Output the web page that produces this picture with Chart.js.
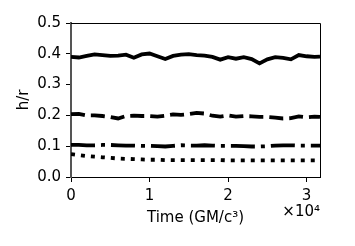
<!DOCTYPE html>
<html>
<head>
<meta charset="utf-8">
<script src="https://cdn.jsdelivr.net/npm/chart.js@4/dist/chart.umd.min.js"></script>
<style>
	html, body { margin: 0; padding: 0; background: #fff; }
	canvas { display: block; }
</style>
</head>
<body>
<canvas id="hr-chart" width="355" height="246"></canvas>
<script>
// h/r vs time for four discs
const times = [0, 1000, 2000, 3000, 4000, 5000, 6000, 7000, 8000, 9000, 10000, 11000, 12000, 13000, 14000, 15000, 16000, 17000, 18000, 19000, 20000, 21000, 22000, 23000, 24000, 25000, 26000, 27000, 28000, 29000, 30000, 31000, 31700];

const hrThick = [0.390, 0.388, 0.393, 0.398, 0.396, 0.393, 0.394, 0.397, 0.387, 0.398, 0.401, 0.392, 0.383, 0.393, 0.397, 0.399, 0.396, 0.394, 0.390, 0.381, 0.389, 0.384, 0.389, 0.383, 0.369, 0.382, 0.389, 0.387, 0.382, 0.396, 0.392, 0.390, 0.391];
const hrMedium = [0.204, 0.205, 0.200, 0.200, 0.198, 0.195, 0.190, 0.198, 0.199, 0.198, 0.198, 0.196, 0.199, 0.203, 0.202, 0.204, 0.208, 0.206, 0.199, 0.196, 0.200, 0.196, 0.198, 0.197, 0.195, 0.195, 0.193, 0.190, 0.191, 0.197, 0.194, 0.196, 0.195];
const hrThin = [0.104, 0.104, 0.103, 0.103, 0.104, 0.104, 0.103, 0.102, 0.102, 0.101, 0.101, 0.100, 0.099, 0.101, 0.103, 0.102, 0.102, 0.103, 0.102, 0.101, 0.101, 0.101, 0.100, 0.099, 0.099, 0.100, 0.102, 0.103, 0.103, 0.102, 0.102, 0.102, 0.102];
const hrThinnest = [0.074, 0.071, 0.068, 0.066, 0.064, 0.062, 0.060, 0.059, 0.058, 0.057, 0.056, 0.056, 0.055, 0.055, 0.055, 0.055, 0.055, 0.055, 0.055, 0.055, 0.054, 0.054, 0.054, 0.054, 0.054, 0.054, 0.054, 0.054, 0.054, 0.054, 0.054, 0.054, 0.054];

const yTicks = [0, 0.1, 0.2, 0.3, 0.4, 0.5];
const xTicks = [0, 10000, 20000, 30000];

const FONT = "'DejaVu Sans', sans-serif";
const FS = 15;

const pts = (ys) => times.map((t, i) => ({ x: t, y: ys[i] }));
const series = (ys, dash) => ({
	data: pts(ys),
	borderColor: "#000",
	borderWidth: 3.8,
	borderDash: dash,
	borderCapStyle: "butt",
	pointRadius: 0,
	tension: 0,
	fill: false,
});

// frame + axis labels drawn straight on the canvas
const decor = {
	id: "decor",
	afterDatasetsDraw(chart) {
		const { ctx, chartArea: a } = chart;
		ctx.save();
		ctx.strokeStyle = "#000";
		ctx.lineWidth = 1;
		ctx.beginPath();
		ctx.moveTo(a.left, a.top + 0.5);
		ctx.lineTo(a.right + 0.5, a.top + 0.5);
		ctx.lineTo(a.right + 0.5, a.bottom);
		ctx.stroke();
		ctx.restore();
	},
	afterDraw(chart) {
		const { ctx, chartArea: a } = chart;
		ctx.save();
		ctx.fillStyle = "#000";
		ctx.font = `${FS}px ${FONT}`;
		ctx.textAlign = "center";
		ctx.textBaseline = "middle";
		ctx.fillText("Time (GM/c\u00B3)", (a.left + a.right) / 2, 218);
		ctx.textAlign = "right";
		ctx.fillText("\u00D710\u2074", a.right, 212);
		ctx.translate(24, (a.top + a.bottom) / 2);
		ctx.rotate(-Math.PI / 2);
		ctx.textAlign = "center";
		ctx.fillText("h/r", 0, 0);
		ctx.restore();
	},
};

new Chart(document.getElementById("hr-chart"), {
	type: "line",
	data: {
		datasets: [
			series(hrThick, []),
			series(hrMedium, [14, 6]),
			series(hrThin, [24, 6, 4, 6]),
			series(hrThinnest, [4, 6]),
		],
	},
	options: {
		responsive: false,
		devicePixelRatio: 1,
		animation: false,
		layout: { padding: { left: 0, right: 35, top: 23, bottom: 0 } },
		plugins: { legend: { display: false }, tooltip: { enabled: false } },
		scales: {
			x: {
				type: "linear",
				min: 0,
				max: 31700,
				afterFit: (s) => { s.height = 69; },
				afterBuildTicks: (s) => { s.ticks = xTicks.map((v) => ({ value: v })); },
				ticks: {
					callback: (v) => String(v / 10000),
					color: "#000",
					font: { family: FONT, size: FS },
					padding: 5,
					maxRotation: 0,
				},
				grid: { drawOnChartArea: false, tickLength: 5, tickColor: "#000", tickWidth: 1 },
				border: { display: true, color: "#000", width: 1 },
			},
			y: {
				min: 0,
				max: 0.5,
				afterFit: (s) => { s.width = 71; },
				afterBuildTicks: (s) => { s.ticks = yTicks.map((v) => ({ value: v })); },
				ticks: {
					callback: (v) => v.toFixed(1),
					color: "#000",
					font: { family: FONT, size: FS },
					padding: 5,
				},
				grid: { drawOnChartArea: false, tickLength: 5, tickColor: "#000", tickWidth: 1 },
				border: { display: true, color: "#555", width: 2 },
			},
		},
	},
	plugins: [decor],
});
</script>
</body>
</html>
